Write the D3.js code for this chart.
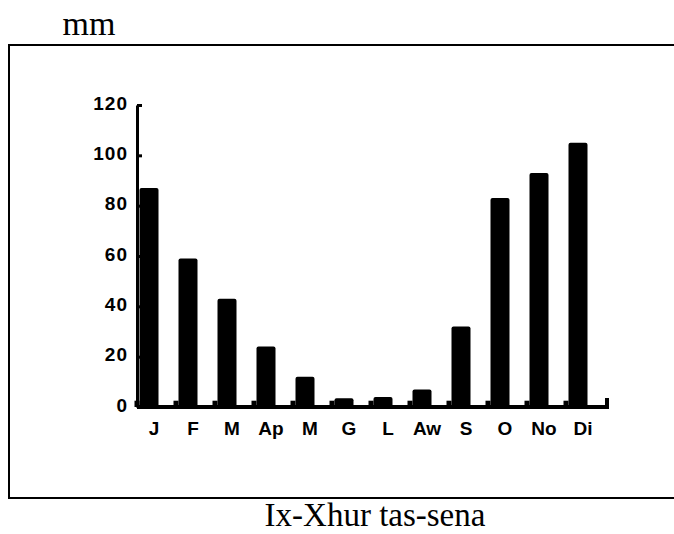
<!DOCTYPE html>
<html>
<head>
<meta charset="utf-8">
<script src="https://cdn.jsdelivr.net/npm/d3@7"></script>
<style>
  body { margin: 0; background: #fff; }
  svg { display: block; }
</style>
</head>
<body>
<div id="chart"></div>
<script>
// monthly rainfall (mm)
const months = ["J", "F", "M", "Ap", "M ", "G", "L", "Aw", "S", "O", "No", "Di"];
const monthLabels = ["J", "F", "M", "Ap", "M", "G", "L", "Aw", "S", "O", "No", "Di"];
const rain = [87, 59, 43, 24, 12, 3.5, 4, 7, 32, 83, 93, 105];
// little bumps at the foot of every bar
const stubs = [2.5, 2.5, 2.5, 2.5, 2.5, 2.5, 2.5, 2.5, 2.5, 2.5, 2.5, 2.5];
const yTicks = [0, 20, 40, 60, 80, 100, 120];

const W = 674, H = 534;
const AXIS_X = 137;
const BAR_W = 19;

const svg = d3.select("#chart").append("svg")
  .attr("width", W)
  .attr("height", H);

// outer frame (runs off the right edge)
svg.append("path")
  .attr("d", "M 680 45 L 9 45 L 9 498 L 680 498")
  .attr("fill", "none")
  .attr("stroke", "#000")
  .attr("stroke-width", 2);

svg.append("text")
  .attr("x", 89)
  .attr("y", 35)
  .attr("text-anchor", "middle")
  .attr("font-family", "Liberation Serif, Times New Roman, serif")
  .attr("font-size", 34)
  .attr("fill", "#000")
  .text("mm");

svg.append("text")
  .attr("x", 375)
  .attr("y", 526)
  .attr("text-anchor", "middle")
  .attr("font-family", "Liberation Serif, Times New Roman, serif")
  .attr("font-size", 33)
  .attr("fill", "#000")
  .text("Ix-Xhur tas-sena");

const y = d3.scaleLinear().domain([0, 120]).range([407, 105]);
const x = d3.scalePoint().domain(months).range([149, 578]);

const g = svg.append("g");

// bars
g.selectAll("rect.bar")
  .data(rain)
  .join("rect")
  .attr("class", "bar")
  .attr("x", (d, i) => x(months[i]) - BAR_W / 2)
  .attr("y", d => y(d))
  .attr("width", BAR_W)
  .attr("height", d => y(0) - y(d))
  .attr("rx", 2)
  .attr("fill", "#000");

g.selectAll("rect.stub")
  .data(stubs)
  .join("rect")
  .attr("class", "stub")
  .attr("x", (d, i) => x(months[i]) - BAR_W / 2 - 5)
  .attr("y", d => y(d))
  .attr("width", 5)
  .attr("height", d => y(0) - y(d))
  .attr("fill", "#000");

// y axis, ticks pointing inward
const yAxis = d3.axisLeft(y)
  .tickValues(yTicks)
  .tickSizeInner(-5)
  .tickSizeOuter(0)
  .tickPadding(9);

const ya = g.append("g")
  .attr("transform", `translate(${AXIS_X},0)`)
  .call(yAxis);
ya.select(".domain").attr("stroke-width", 3);
ya.selectAll(".tick line").attr("stroke-width", 3);
ya.selectAll(".tick text")
  .attr("dy", "0.32em")
  .attr("y", -2)
  .attr("font-family", "Liberation Sans, Arial, sans-serif")
  .attr("font-weight", "bold")
  .attr("font-size", 19)
  .attr("letter-spacing", 1)
  .attr("fill", "#000");

// x baseline with small end tick
const xEnd = x(months[months.length - 1]) + 29;
g.append("path")
  .attr("d", `M ${AXIS_X} ${y(0)} L ${xEnd} ${y(0)} L ${xEnd} ${y(0) - 9}`)
  .attr("fill", "none")
  .attr("stroke", "#000")
  .attr("stroke-width", 4);

g.selectAll("text.month")
  .data(monthLabels)
  .join("text")
  .attr("class", "month")
  .attr("x", (d, i) => x(months[i]) + 5)
  .attr("y", 435)
  .attr("text-anchor", "middle")
  .attr("font-family", "Liberation Sans, Arial, sans-serif")
  .attr("font-weight", "bold")
  .attr("font-size", 19)
  .attr("fill", "#000")
  .text(d => d);
</script>
</body>
</html>
